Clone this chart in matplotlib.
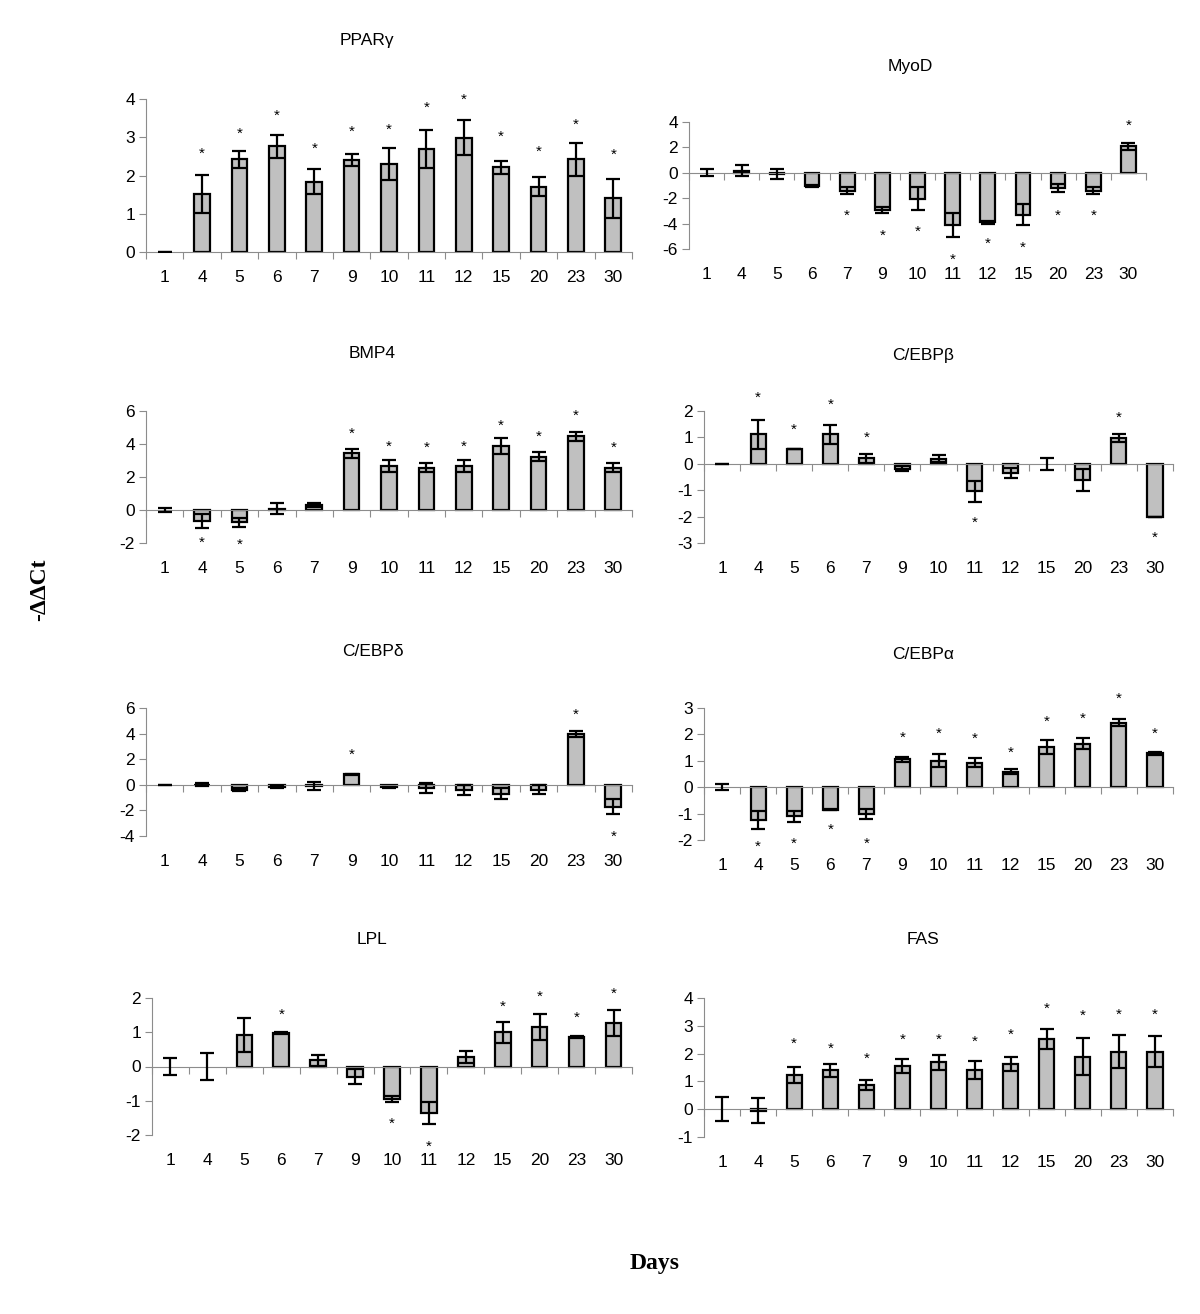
import numpy as np
import matplotlib
matplotlib.use("Agg")
import matplotlib.pyplot as plt

plt.rcParams['font.family'] = ['Liberation Sans', 'DejaVu Sans']
plt.rcParams['axes.unicode_minus'] = False

days = ["1", "4", "5", "6", "7", "9", "10", "11", "12", "15", "20", "23", "30"]

pparg_mean = [0, 1.51, 2.42, 2.77, 1.84, 2.40, 2.31, 2.69, 2.99, 2.22, 1.71, 2.42, 1.40]
pparg_err = [0, 0.50, 0.22, 0.30, 0.33, 0.16, 0.42, 0.50, 0.46, 0.17, 0.25, 0.43, 0.51]
pparg_star = [None, 2.72, 3.24, 3.70, 2.85, 3.28, 3.35, 3.92, 4.13, 3.16, 2.76, 3.48, 2.68]

myod_mean = [0, 0.18, -0.13, -1.05, -1.40, -2.93, -2.04, -4.12, -3.90, -3.30, -1.20, -1.40, 2.08]
myod_err = [0.27, 0.47, 0.39, 0.10, 0.25, 0.27, 0.92, 0.92, 0.10, 0.82, 0.35, 0.25, 0.25]
myod_star = [None, None, None, None, -2.95, -4.52, -4.20, -6.45, -5.14, -5.50, -2.95, -2.95, 4.15]

bmp4_mean = [0, -0.65, -0.75, 0.07, 0.30, 3.43, 2.66, 2.56, 2.66, 3.90, 3.22, 4.48, 2.56]
bmp4_err = [0.15, 0.42, 0.27, 0.33, 0.10, 0.28, 0.36, 0.27, 0.35, 0.48, 0.28, 0.27, 0.27]
bmp4_star = [None, -1.62, -1.76, None, None, 4.95, 4.16, 4.10, 4.18, 5.43, 4.77, 6.02, 4.08]

cebpb_mean = [0, 1.11, 0.56, 1.11, 0.21, -0.18, 0.20, -1.04, -0.35, 0, -0.60, 0.97, -2.0]
cebpb_err = [0, 0.55, 0, 0.37, 0.17, 0.11, 0.12, 0.40, 0.20, 0.23, 0.42, 0.14, 0]
cebpb_star = [None, 2.73, 1.51, 2.43, 1.21, None, None, -2.03, None, None, None, 1.94, -2.59]

cebpd_mean = [0, 0.02, -0.40, -0.20, -0.08, 0.82, -0.20, -0.23, -0.38, -0.68, -0.40, 3.99, -1.70]
cebpd_err = [0, 0.15, 0.12, 0.08, 0.32, 0.05, 0.06, 0.38, 0.38, 0.43, 0.35, 0.24, 0.60]
cebpd_star = [None, None, None, None, None, 2.78, None, None, None, None, None, 5.90, -3.65]

cebpa_mean = [0, -1.25, -1.10, -0.86, -1.02, 1.05, 1.00, 0.93, 0.59, 1.52, 1.64, 2.45, 1.28]
cebpa_err = [0.12, 0.33, 0.20, 0.02, 0.20, 0.08, 0.24, 0.18, 0.10, 0.25, 0.21, 0.15, 0.07]
cebpa_star = [None, -2.05, -1.95, -1.40, -1.95, 2.10, 2.22, 2.06, 1.51, 2.69, 2.80, 3.56, 2.22]

lpl_mean = [0, 0, 0.92, 0.97, 0.18, -0.30, -0.95, -1.35, 0.28, 1.00, 1.15, 0.87, 1.27]
lpl_err = [0.25, 0.40, 0.50, 0.03, 0.17, 0.22, 0.08, 0.32, 0.18, 0.30, 0.39, 0.03, 0.38]
lpl_star = [None, None, None, 1.67, None, None, -1.50, -2.17, None, 1.91, 2.20, 1.59, 2.29]

fas_mean = [0, -0.05, 1.23, 1.40, 0.87, 1.56, 1.68, 1.40, 1.62, 2.51, 1.89, 2.07, 2.07]
fas_err = [0.43, 0.44, 0.30, 0.23, 0.17, 0.24, 0.27, 0.33, 0.25, 0.36, 0.67, 0.60, 0.55]
fas_star = [None, None, 2.55, 2.39, 2.00, 2.69, 2.69, 2.63, 2.86, 3.83, 3.55, 3.60, 3.60]

# name, mean, err, stars, (ymin, ymax, step)
panels = [
    ("PPARγ", pparg_mean, pparg_err, pparg_star, (0, 4, 1)),
    ("MyoD", myod_mean, myod_err, myod_star, (-6, 4, 2)),
    ("BMP4", bmp4_mean, bmp4_err, bmp4_star, (-2, 6, 2)),
    ("C/EBPβ", cebpb_mean, cebpb_err, cebpb_star, (-3, 2, 1)),
    ("C/EBPδ", cebpd_mean, cebpd_err, cebpd_star, (-4, 6, 2)),
    ("C/EBPα", cebpa_mean, cebpa_err, cebpa_star, (-2, 3, 1)),
    ("LPL", lpl_mean, lpl_err, lpl_star, (-2, 2, 1)),
    ("FAS", fas_mean, fas_err, fas_star, (-1, 4, 1)),
]

W, H = 1200, 1314
# plot boxes in pixels: left, right, top, bottom ; title x, y
boxes = [
    (146, 632, 99, 252, 367, 40),
    (689, 1146, 122, 249, 910, 67),
    (146, 632, 411, 543, 372, 354),
    (704, 1173, 411, 543, 923, 355),
    (146, 632, 708, 836, 373, 652),
    (704, 1173, 708, 840, 923, 655),
    (152, 632, 998, 1135, 372, 939),
    (704, 1173, 998, 1137, 923, 940),
]

fig = plt.figure(figsize=(W / 100, H / 100), dpi=100)
grey = '#8c8c8c'
x = np.arange(len(days))

for (name, mean, err, stars, (y0, y1, step)), (l, r, t, b, tx, ty) in zip(panels, boxes):
    ax = fig.add_axes([l / W, 1 - b / H, (r - l) / W, (b - t) / H])
    lws = [1.6 if v != 0 else 0 for v in mean]
    ax.bar(x, mean, width=0.42, color='#c0c0c0', edgecolor='black', linewidth=lws, zorder=2)
    ax.errorbar(x, mean, yerr=err, fmt='none', ecolor='black', elinewidth=1.6,
                capsize=5, capthick=1.6, zorder=3)
    for xi, s in zip(x, stars):
        if s is not None:
            ax.annotate('*', (xi, s), xytext=(0, -4), textcoords='offset points',
                        ha='center', va='center', fontsize=11, annotation_clip=False)
    ax.set_xlim(-0.5, len(days) - 0.5)
    ax.set_ylim(y0, y1)
    ax.set_yticks(np.arange(y0, y1 + step / 2, step))
    ax.tick_params(axis='y', direction='out', length=5, color=grey, labelsize=12.5, pad=3)
    for sp in ('top', 'right'):
        ax.spines[sp].set_visible(False)
    ax.spines['left'].set_color(grey)
    ax.spines['bottom'].set_color(grey)
    ax.spines['bottom'].set_position(('data', 0))
    ax.set_xticks(np.arange(-0.5, len(days), 1.0))
    ax.set_xticklabels([])
    ax.tick_params(axis='x', direction='out', length=5, color=grey)
    sec = ax.secondary_xaxis('bottom')
    sec.set_xticks(x)
    sec.set_xticklabels(days)
    sec.tick_params(length=0, labelsize=12.5, pad=13)
    sec.spines['bottom'].set_visible(False)
    fig.text(tx / W, 1 - ty / H, name, ha='center', va='center', fontsize=12.5)

fig.text(40 / W, 1 - 590 / H, '-ΔΔCt', rotation=90, ha='center', va='center',
         fontsize=17, fontweight='bold', family=['Liberation Serif', 'DejaVu Serif'])
fig.text(655 / W, 1 - 1264 / H, 'Days', ha='center', va='center',
         fontsize=17, fontweight='bold', family=['Liberation Serif', 'DejaVu Serif'])

fig.savefig('out.png', dpi=100)
